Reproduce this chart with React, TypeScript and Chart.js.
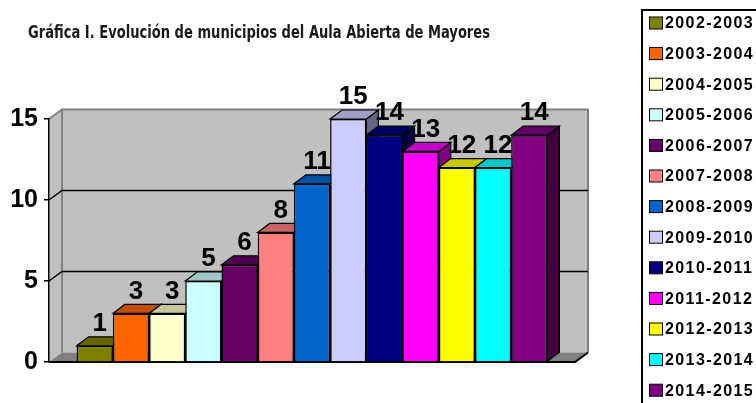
import React, { useEffect, useRef } from "react";
import { Chart, registerables } from "chart.js";

Chart.register(...registerables);

const TITLE = "Gráfica I. Evolución de municipios del Aula Abierta de Mayores";
const SEASONS = [
  "2002-2003", "2003-2004", "2004-2005", "2005-2006", "2006-2007", "2007-2008", "2008-2009",
  "2009-2010", "2010-2011", "2011-2012", "2012-2013", "2013-2014", "2014-2015",
];
const MUNICIPIOS = [1, 3, 3, 5, 6, 8, 11, 15, 14, 13, 12, 12, 14];
const COLORS = [
  "#808000", "#FF6600", "#FFFFCC", "#CCFFFF", "#660066", "#FF8080", "#0066CC",
  "#CCCCFF", "#000080", "#FF00FF", "#FFFF00", "#00FFFF", "#800080",
];
const Y_TICKS = [0, 5, 10, 15];

const WALL_DX = 13;
const WALL_DY = -9.5;
const BAR_DX = 12;
const BAR_DY = -9;

function shade(hex: string, f: number): string {
  const n = parseInt(hex.slice(1), 16);
  const r = Math.round(((n >> 16) & 255) * f);
  const g = Math.round(((n >> 8) & 255) * f);
  const b = Math.round((n & 255) * f);
  return `rgb(${r},${g},${b})`;
}

function poly(ctx: CanvasRenderingContext2D, pts: number[][], fill?: string, stroke?: string, lw = 1) {
  ctx.beginPath();
  ctx.moveTo(pts[0][0], pts[0][1]);
  for (let i = 1; i < pts.length; i++) ctx.lineTo(pts[i][0], pts[i][1]);
  ctx.closePath();
  if (fill) {
    ctx.fillStyle = fill;
    ctx.fill();
  }
  if (stroke) {
    ctx.strokeStyle = stroke;
    ctx.lineWidth = lw;
    ctx.stroke();
  }
}

const wallPlugin = {
  id: "wall3d",
  beforeDraw(chart: any) {
    const { ctx, chartArea: a, scales } = chart;
    const y = scales.y;
    const L = a.left, R = a.right;
    const T = y.getPixelForValue(Y_TICKS[Y_TICKS.length - 1]);
    const B = y.getPixelForValue(0);
    ctx.save();
    // left side wall
    poly(ctx, [[L, T], [L + WALL_DX, T + WALL_DY], [L + WALL_DX, B + WALL_DY], [L, B]], "#C0C0C0");
    // back wall
    ctx.fillStyle = "#C0C0C0";
    ctx.fillRect(L + WALL_DX, T + WALL_DY, R - L, B - T);
    // floor
    poly(ctx, [[L, B], [L + WALL_DX, B + WALL_DY], [R + WALL_DX, B + WALL_DY], [R, B]], "#808080");
    // wall edges
    ctx.strokeStyle = "#808080";
    ctx.lineWidth = 2;
    ctx.beginPath();
    ctx.moveTo(L, T);
    ctx.lineTo(L + WALL_DX, T + WALL_DY);
    ctx.lineTo(R + WALL_DX, T + WALL_DY);
    ctx.lineTo(R + WALL_DX, B + WALL_DY);
    ctx.moveTo(L + WALL_DX, T + WALL_DY);
    ctx.lineTo(L + WALL_DX, B + WALL_DY);
    ctx.stroke();
    // gridlines
    ctx.strokeStyle = "#000";
    ctx.lineWidth = 1.5;
    Y_TICKS.slice(1, -1).forEach((v) => {
      const py = y.getPixelForValue(v);
      ctx.beginPath();
      ctx.moveTo(L, py);
      ctx.lineTo(L + WALL_DX, py + WALL_DY);
      ctx.lineTo(R + WALL_DX, py + WALL_DY);
      ctx.stroke();
    });
    // floor front edge
    ctx.lineWidth = 2;
    ctx.beginPath();
    ctx.moveTo(L, B);
    ctx.lineTo(R, B);
    ctx.lineTo(R + WALL_DX, B + WALL_DY);
    ctx.stroke();
    ctx.restore();
  },
  beforeDatasetDraw() {
    return false;
  },
  afterDatasetsDraw(chart: any) {
    const { ctx } = chart;
    ctx.save();
    const tops: number[][] = [];
    MUNICIPIOS.forEach((_, i) => {
      const meta = chart.getDatasetMeta(i);
      const el = meta.data[0];
      if (!el) return;
      const { x, y, base, width } = el.getProps(["x", "y", "base", "width"], true);
      const l = x - width / 2, r = x + width / 2;
      const col = COLORS[i];
      el.draw(ctx);
      poly(ctx, [[r, y], [r + BAR_DX, y + BAR_DY], [r + BAR_DX, base + BAR_DY], [r, base]], shade(col, 0.5), "#000", 1.2);
      poly(ctx, [[l, y], [l + BAR_DX, y + BAR_DY], [r + BAR_DX, y + BAR_DY], [r, y]], shade(col, 0.78), "#000", 1.2);
      tops.push([x, y]);
    });
    ctx.fillStyle = "#000";
    ctx.font = 'bold 26px "Liberation Sans", Arial, sans-serif';
    ctx.textAlign = "center";
    ctx.textBaseline = "middle";
    tops.forEach(([x, y], i) => {
      ctx.fillText(String(MUNICIPIOS[i]), x + BAR_DX / 2 - 1, y - 22);
    });
    ctx.restore();
  },
  afterDraw(chart: any) {
    const { ctx } = chart;
    ctx.save();
    // title
    ctx.font = 'bold 17px "Liberation Sans Narrow", "DejaVu Sans Condensed", "Liberation Sans", Arial, sans-serif';
    ctx.fillStyle = "#1a1a1a";
    ctx.textBaseline = "alphabetic";
    ctx.textAlign = "left";
    const w = ctx.measureText(TITLE).width;
    const target = 462;
    ctx.translate(28, 38);
    ctx.scale(target / w, 1);
    ctx.fillText(TITLE, 0, 0);
    ctx.restore();

    // legend
    ctx.save();
    ctx.strokeStyle = "#000";
    ctx.lineWidth = 2;
    ctx.strokeRect(642, 10, 130, 420);
    ctx.font = 'bold 16px "Liberation Sans", Arial, sans-serif';
    ctx.textBaseline = "middle";
    ctx.textAlign = "left";
    (ctx as any).letterSpacing = "1.4px";
    SEASONS.forEach((s, i) => {
      const cy = 23 + i * 30.6;
      ctx.fillStyle = COLORS[i];
      ctx.fillRect(649.5, cy - 6, 13, 12);
      ctx.strokeStyle = "#000";
      ctx.lineWidth = 1;
      ctx.strokeRect(649.5, cy - 6, 13, 12);
      ctx.fillStyle = "#000";
      ctx.fillText(s, 665, cy + 1);
    });
    (ctx as any).letterSpacing = "0px";
    ctx.restore();
  },
};

export default function App() {
  const ref = useRef<HTMLCanvasElement>(null);
  useEffect(() => {
    document.body.style.margin = "0";
    const chart = new Chart(ref.current!, {
      type: "bar",
      data: {
        labels: [""],
        datasets: SEASONS.map((s, i) => ({
          label: s,
          data: [MUNICIPIOS[i]],
          backgroundColor: COLORS[i],
          borderColor: "#000",
          borderWidth: 1.5,
          barPercentage: 1,
          categoryPercentage: 0.895,
          clip: false as any,
        })),
      },
      options: {
        animation: false,
        responsive: false,
        devicePixelRatio: 1,
        layout: { padding: { left: 8, right: 181, top: 119, bottom: 41 } },
        plugins: {
          legend: { display: false },
          tooltip: { enabled: false },
          title: { display: false },
        },
        scales: {
          x: { display: false },
          y: {
            min: 0,
            max: 15,
            afterFit: (scale: any) => {
              scale.width = 41;
            },
            afterBuildTicks: (scale: any) => {
              scale.ticks = Y_TICKS.map((v) => ({ value: v }));
            },
            ticks: {
              color: "#000",
              padding: 6,
              font: { family: '"Liberation Sans", Arial, sans-serif', size: 25, weight: "bold" },
            },
            grid: { drawOnChartArea: false, drawTicks: true, tickLength: 5, color: "#000", lineWidth: 1.5 },
            border: { color: "#000", width: 1.5 },
          },
        },
      },
      plugins: [wallPlugin],
    });
    return () => chart.destroy();
  }, []);
  return (
    <div style={{ width: 756, height: 403 }}>
      <canvas ref={ref} width={756} height={403} style={{ display: "block" }} />
    </div>
  );
}
